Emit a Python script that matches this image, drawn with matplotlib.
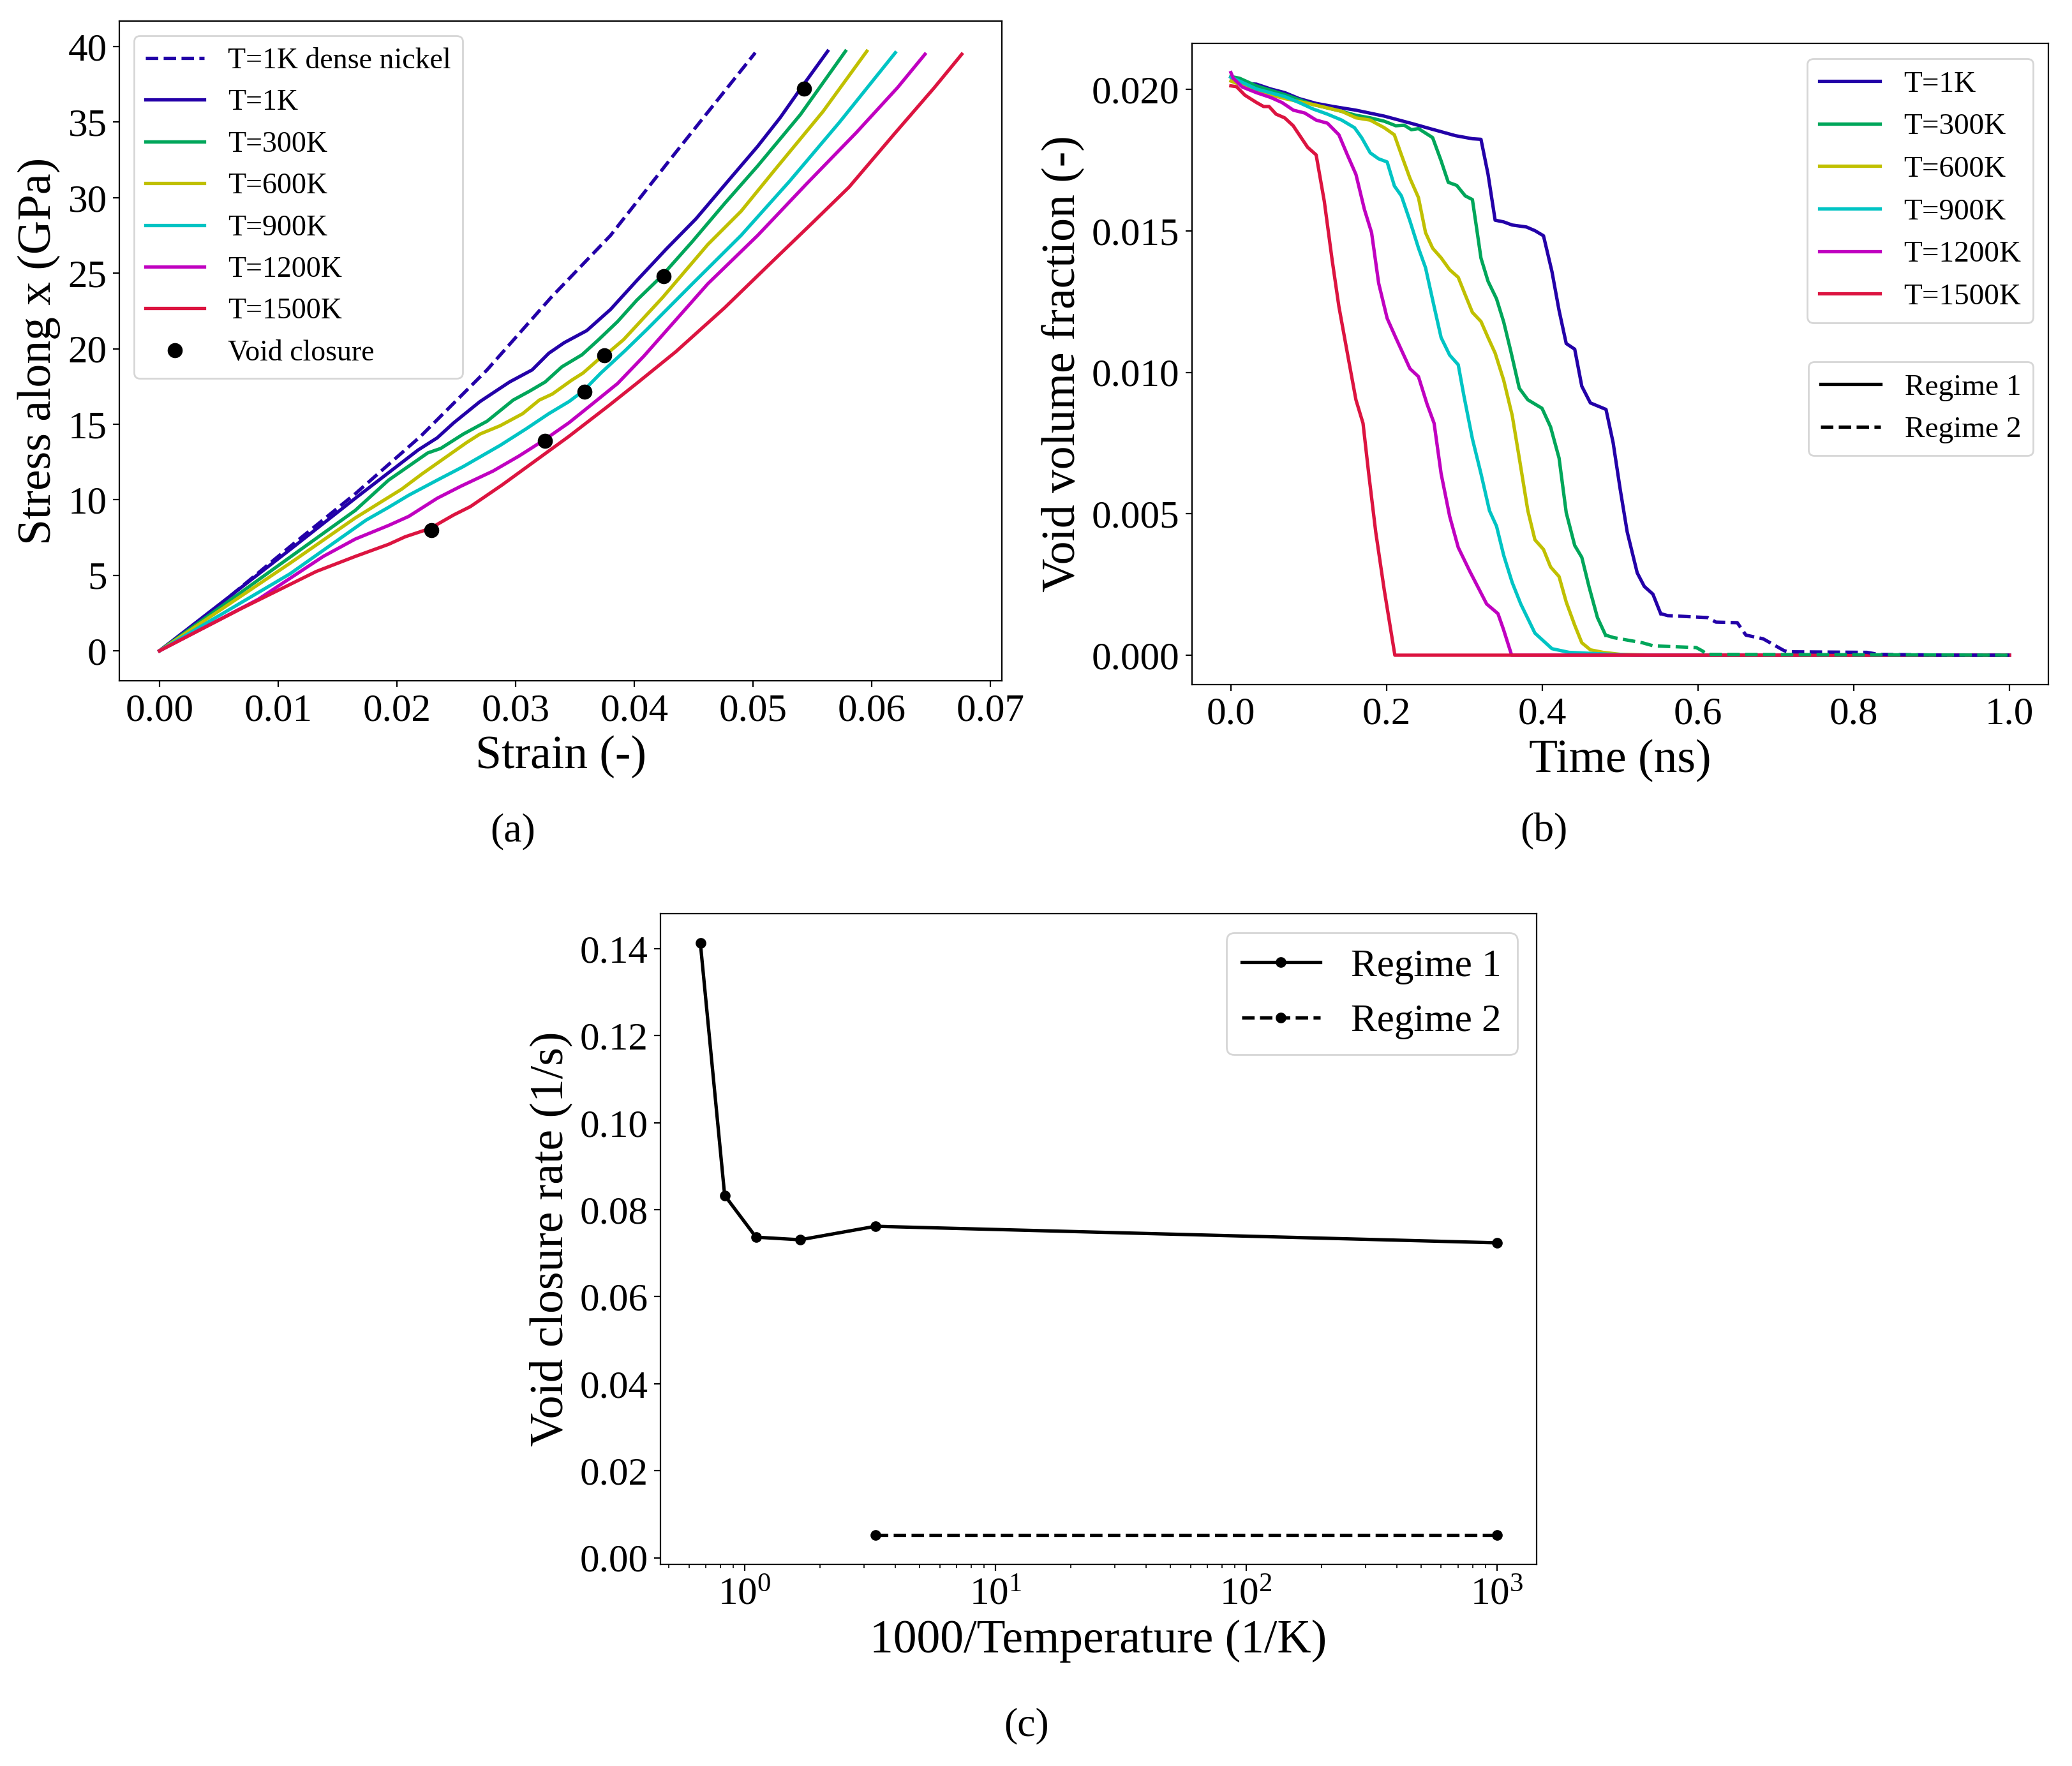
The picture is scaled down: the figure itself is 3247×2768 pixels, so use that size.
import numpy as np
import matplotlib.pyplot as plt

plt.rcParams["font.family"] = ["Liberation Serif", "DejaVu Serif"]
plt.rcParams["mathtext.fontset"] = "custom"
plt.rcParams["mathtext.rm"] = "Liberation Serif"

# colours per temperature
colors = {"1K": "#2300a8", "300K": "#00a65a", "600K": "#c0c000",
          "900K": "#00c4c4", "1200K": "#c000c0", "1500K": "#dc1440"}

# (a) stress-strain <<<
dense_strain = [0, 0.005, 0.011, 0.0165, 0.022, 0.0276, 0.033, 0.038, 0.0435, 0.0502]
dense_stress = [0, 3.0, 6.9, 10.4, 14.2, 18.6, 23.4, 27.5, 33.0, 39.6]

strain = {
    "1K": [0, 0.011, 0.0165, 0.0218, 0.0234, 0.0248, 0.027, 0.0295, 0.0314, 0.0328,
           0.0341, 0.036, 0.038, 0.0402, 0.0427, 0.0452, 0.0479, 0.0504, 0.0523, 0.054, 0.0563],
    "300K": [0, 0.011, 0.0165, 0.0193, 0.0226, 0.0237, 0.0256, 0.0276, 0.0298, 0.0312,
             0.0325, 0.0339, 0.0356, 0.0370, 0.0386, 0.0402, 0.0423, 0.0449, 0.0476,
             0.0504, 0.0540, 0.0578],
    "600K": [0, 0.011, 0.0165, 0.0204, 0.0221, 0.0240, 0.0259, 0.0270, 0.0287, 0.0306,
             0.0320, 0.0331, 0.0347, 0.0357, 0.0370, 0.0376, 0.0391, 0.0424, 0.0462,
             0.0490, 0.0518, 0.0559, 0.0596],
    "900K": [0, 0.011, 0.0174, 0.0193, 0.0210, 0.0234, 0.0256, 0.0287, 0.0309, 0.0328,
             0.0345, 0.0357, 0.0372, 0.0392, 0.0411, 0.0449, 0.0490, 0.0531, 0.0573, 0.0620],
    "1200K": [0, 0.0083, 0.0138, 0.0165, 0.0193, 0.0210, 0.0234, 0.0254, 0.0281, 0.0303,
              0.0324, 0.0345, 0.0364, 0.0386, 0.0408, 0.0462, 0.0504, 0.0545, 0.0587,
              0.0622, 0.0645],
    "1500K": [0, 0.0069, 0.0105, 0.0132, 0.0165, 0.0193, 0.0207, 0.0228, 0.0248, 0.0262,
              0.0289, 0.0317, 0.0345, 0.0378, 0.0402, 0.0435, 0.0476, 0.0518, 0.0551,
              0.0581, 0.0620, 0.0653, 0.0676],
}
stress = {
    "1K": [0, 6.7, 10.1, 13.3, 14.1, 15.1, 16.5, 17.8, 18.6, 19.7,
           20.4, 21.2, 22.6, 24.5, 26.6, 28.6, 31.1, 33.4, 35.3, 37.2, 39.7],
    "300K": [0, 6.2, 9.3, 11.3, 13.1, 13.4, 14.35, 15.2, 16.6, 17.2,
             17.8, 18.8, 19.6, 20.6, 21.8, 23.2, 24.8, 27.1, 29.6,
             32.1, 35.5, 39.7],
    "600K": [0, 5.8, 8.8, 10.7, 11.7, 12.75, 13.8, 14.35, 14.9, 15.7,
             16.6, 17.0, 17.9, 18.4, 19.3, 19.6, 20.6, 23.4, 26.9,
             29.1, 31.8, 35.7, 39.7],
    "900K": [0, 5.1, 8.65, 9.5, 10.3, 11.3, 12.2, 13.6, 14.7, 15.7,
             16.5, 17.2, 18.4, 19.85, 21.3, 24.3, 27.5, 31.1, 35.0, 39.6],
    "1200K": [0, 3.4, 6.25, 7.4, 8.3, 8.9, 10.1, 10.9, 11.9, 12.9,
              13.95, 15.1, 16.3, 17.7, 19.5, 24.3, 27.5, 30.9, 34.3,
              37.3, 39.5],
    "1500K": [0, 2.8, 4.2, 5.25, 6.25, 7.05, 7.55, 8.1, 9.0, 9.55,
              11.0, 12.6, 14.2, 16.2, 17.7, 19.8, 22.7, 25.9, 28.4,
              30.7, 34.3, 37.3, 39.5],
}
closure_strain = [0.0543, 0.0425, 0.0375, 0.0358, 0.0325, 0.0229]
closure_stress = [37.2, 24.8, 19.55, 17.15, 13.9, 8.0]
# >>>

# (b) void volume fraction <<<
time = {
    "1K": [0, 0.011, 0.0328, 0.0511, 0.0693, 0.0876, 0.1095, 0.1314, 0.1606, 0.197,
           0.2336, 0.2555, 0.27, 0.2883, 0.3102, 0.3212, 0.3303, 0.3394, 0.3504,
           0.3613, 0.3796, 0.3905, 0.4015, 0.4124, 0.4215, 0.4307, 0.4416, 0.4507,
           0.4617, 0.4818, 0.4909, 0.50, 0.509, 0.5219, 0.531, 0.542, 0.552],
    "300K": [0, 0.011, 0.0328, 0.0693, 0.1058, 0.1423, 0.1606, 0.1788, 0.197, 0.2117,
             0.2226, 0.2318, 0.2409, 0.2591, 0.27, 0.2792, 0.2901, 0.301, 0.3102,
             0.3157, 0.3212, 0.3303, 0.3412, 0.3504, 0.3595, 0.3704, 0.3814, 0.3996,
             0.4106, 0.4215, 0.4307, 0.4416, 0.4507, 0.4599, 0.4708, 0.4812],
    "600K": [0, 0.0328, 0.0693, 0.1058, 0.1423, 0.1606, 0.1788, 0.197, 0.2099, 0.219,
             0.23, 0.2409, 0.25, 0.2591, 0.27, 0.281, 0.292, 0.301, 0.3102, 0.3212,
             0.3303, 0.3394, 0.3504, 0.3613, 0.3704, 0.3814, 0.3905, 0.4015, 0.4106,
             0.4215, 0.4307, 0.4416, 0.4507, 0.4617, 0.478, 0.50, 0.55, 1.0],
    "900K": [0, 0.0328, 0.0693, 0.0876, 0.1058, 0.124, 0.1423, 0.1588, 0.1679, 0.179,
             0.1898, 0.2007, 0.21, 0.219, 0.23, 0.241, 0.25, 0.261, 0.27, 0.281,
             0.292, 0.2993, 0.3102, 0.3212, 0.3321, 0.3412, 0.3504, 0.3613, 0.3723,
             0.3905, 0.4124, 0.4343, 0.489, 0.52, 1.0],
    "1200K": [0, 0.003, 0.0146, 0.0328, 0.0511, 0.0657, 0.0803, 0.0949, 0.1095, 0.124,
              0.1387, 0.1496, 0.1606, 0.1715, 0.1807, 0.1898, 0.2007, 0.2117, 0.23,
              0.2409, 0.2518, 0.261, 0.27, 0.281, 0.292, 0.3066, 0.3285, 0.343, 0.350,
              0.3606, 1.0],
    "1500K": [0, 0.0073, 0.018, 0.033, 0.042, 0.049, 0.058, 0.069, 0.080, 0.0985,
              0.1095, 0.120, 0.130, 0.1387, 0.1496, 0.1606, 0.1697, 0.177, 0.186,
              0.197, 0.2106, 1.0],
}
fraction = {
    "1K": [0.02044, 0.02023, 0.02019, 0.02002, 0.01989, 0.01968, 0.01951, 0.0194, 0.01927,
           0.01906, 0.01879, 0.01862, 0.01851, 0.01837, 0.01826, 0.01824, 0.0170, 0.01538,
           0.01532, 0.01521, 0.01514, 0.01501, 0.01483, 0.01356, 0.01219, 0.01102, 0.01082,
           0.00951, 0.00892, 0.00869, 0.00752, 0.00587, 0.00436, 0.00291, 0.00243, 0.00216,
           0.00147],
    "300K": [0.02046, 0.0204, 0.02013, 0.01982, 0.01947, 0.01923, 0.01909, 0.019, 0.01888,
             0.01872, 0.01874, 0.01858, 0.01862, 0.0183, 0.01748, 0.01672, 0.01661, 0.01624,
             0.01611, 0.01508, 0.01404, 0.01322, 0.0126, 0.01178, 0.01075, 0.00944, 0.00903,
             0.00873, 0.00807, 0.00697, 0.00504, 0.00388, 0.00346, 0.00243, 0.00133, 0.00071],
    "600K": [0.0203, 0.01995, 0.01968, 0.01947, 0.01923, 0.019, 0.01892, 0.01865, 0.0184,
             0.01769, 0.01686, 0.01618, 0.01494, 0.01439, 0.01405, 0.01363, 0.01336, 0.01274,
             0.01212, 0.0118, 0.01123, 0.01068, 0.00972, 0.00848, 0.00697, 0.00511, 0.00408,
             0.00374, 0.00312, 0.00278, 0.00188, 0.00106, 0.00044, 0.00019, 0.0001, 0.00003,
             0, 0],
    "900K": [0.02044, 0.02002, 0.01975, 0.01954, 0.01931, 0.01913, 0.01892, 0.01865, 0.0183,
             0.01776, 0.01755, 0.01744, 0.01659, 0.01624, 0.01535, 0.01439, 0.0137, 0.01233,
             0.01123, 0.01061, 0.01027, 0.00917, 0.00765, 0.00642, 0.00511, 0.00456, 0.00353,
             0.00257, 0.00181, 0.00078, 0.00023, 0.0001, 0.00003, 0, 0],
    "1200K": [0.0206, 0.0204, 0.02009, 0.01989, 0.01972, 0.01954, 0.01927, 0.01917, 0.01892,
              0.01881, 0.0184, 0.01769, 0.017, 0.01576, 0.01494, 0.01315, 0.01191, 0.01123,
              0.01013, 0.00985, 0.00889, 0.0082, 0.00642, 0.00491, 0.00381, 0.00298, 0.00181,
              0.00147, 0.00092, 0, 0],
    "1500K": [0.02013, 0.0201, 0.0198, 0.01954, 0.0194, 0.0194, 0.01913, 0.0190, 0.01872,
              0.01796, 0.01769, 0.01604, 0.01398, 0.01233, 0.01068, 0.00903, 0.0082, 0.00642,
              0.00436, 0.0023, 0, 0],
}
# regime 2 tails (dashed)
time2 = {
    "1K": [0.552, 0.561, 0.6122, 0.623, 0.6504, 0.6615, 0.6836, 0.7106, 0.716, 0.817,
           0.8316, 0.918, 1.0],
    "300K": [0.4812, 0.4918, 0.5285, 0.5427, 0.5977, 0.605, 0.6122, 1.0],
}
fraction2 = {
    "1K": [0.00147, 0.0014, 0.00133, 0.00117, 0.00115, 0.00071, 0.00058, 0.00016, 0.00012,
           0.0001, 0.00003, 0, 0],
    "300K": [0.00071, 0.00062, 0.00044, 0.00033, 0.00027, 0.00016, 0.00003, 0],
}
# >>>

# (c) closure rate <<<
temps = np.array([1500, 1200, 900, 600, 300, 1])
rate1 = [0.1413, 0.0833, 0.0737, 0.0731, 0.0762, 0.0724]
temps2 = np.array([300, 1])
rate2 = [0.0052, 0.0052]
# >>>

tick_fs = 22
label_fs = 26.5
lw = 1.9

fig = plt.figure(figsize=(16.24, 13.84), dpi=200)
ax_a = fig.add_axes([0.0576, 0.6145, 0.4258, 0.3735])
ax_b = fig.add_axes([0.5751, 0.6125, 0.4132, 0.3629])
ax_c = fig.add_axes([0.3187, 0.1140, 0.4227, 0.3687])

# plot (a) <<<
ax_a.plot(dense_strain, dense_stress, "--", color=colors["1K"], lw=lw,
          label="T=1K dense nickel")
for key in strain:
    ax_a.plot(strain[key], stress[key], color=colors[key], lw=lw, label=f"T={key}")
ax_a.plot(closure_strain, closure_stress, "o", color="black", ms=7.5, ls="",
          label="Void closure", zorder=5)
ax_a.set_xlabel("Strain (-)", fontsize=label_fs)
ax_a.set_ylabel("Stress along x (GPa)", fontsize=label_fs)
ax_a.set_xticks(np.arange(0, 0.071, 0.01))
ax_a.set_yticks(np.arange(0, 41, 5))
ax_a.tick_params(labelsize=tick_fs)
ax_a.legend(loc="upper left", fontsize=16.5)
# >>>

# plot (b) <<<
for key in time:
    ax_b.plot(time[key], fraction[key], color=colors[key], lw=lw, label=f"T={key}")
for key in time2:
    ax_b.plot(time2[key], fraction2[key], "--", color=colors[key], lw=lw)
ax_b.set_xlabel("Time (ns)", fontsize=label_fs)
ax_b.set_ylabel("Void volume fraction (-)", fontsize=label_fs)
ax_b.set_yticks([0, 0.005, 0.01, 0.015, 0.02])
ax_b.set_xticks(np.arange(0, 1.01, 0.2))
ax_b.tick_params(labelsize=tick_fs)
leg1 = ax_b.legend(loc="upper right", fontsize=17)
ax_b.add_artist(leg1)
h1, = ax_b.plot([], [], "-", color="black", lw=lw)
h2, = ax_b.plot([], [], "--", color="black", lw=lw)
ax_b.legend([h1, h2], ["Regime 1", "Regime 2"], loc="upper right",
            bbox_to_anchor=(1.0, 0.527), fontsize=17)
# >>>

# plot (c) <<<
ax_c.semilogx(1000 / temps, rate1, "-o", color="black", lw=lw, ms=5, label="Regime 1")
ax_c.semilogx(1000 / temps2, rate2, "--o", color="black", lw=lw, ms=5, label="Regime 2")
ax_c.set_xlabel("1000/Temperature (1/K)", fontsize=label_fs)
ax_c.set_ylabel("Void closure rate (1/s)", fontsize=label_fs)
ax_c.set_yticks(np.arange(0, 0.141, 0.02))
ax_c.tick_params(labelsize=tick_fs)
ax_c.legend(loc="upper right", fontsize=22)
# >>>

fig.text(0.2475, 0.529, "(a)", fontsize=23, ha="center", va="center")
fig.text(0.745, 0.529, "(b)", fontsize=23, ha="center", va="center")
fig.text(0.4954, 0.0225, "(c)", fontsize=23, ha="center", va="center")

fig.savefig("out.png", dpi=200)
